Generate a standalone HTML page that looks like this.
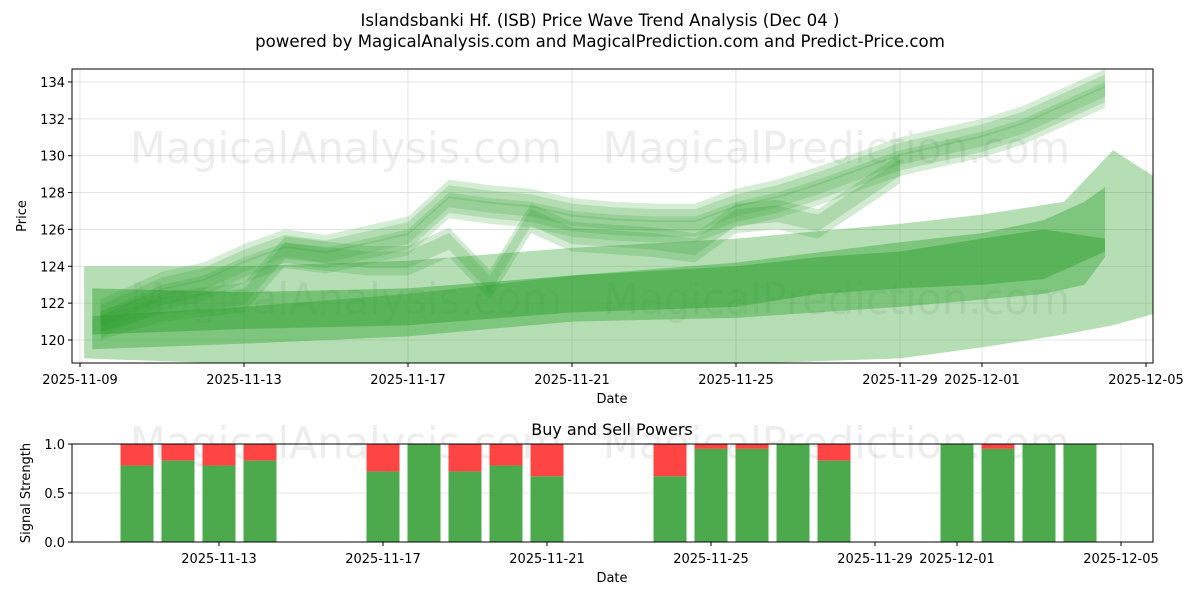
<!DOCTYPE html>
<html><head><meta charset="utf-8"><style>
body{margin:0;background:#fff;font-family:"Liberation Sans","DejaVu Sans",sans-serif}
svg text{font-family:"DejaVu Sans","Liberation Sans",sans-serif}
</style></head><body>
<svg id="chart" width="1200" height="600" viewBox="0 0 1200 600">
<text x="600" y="26" text-anchor="middle" font-size="16.6">Islandsbanki Hf. (ISB) Price Wave Trend Analysis (Dec 04 )</text>
<text x="600" y="47" text-anchor="middle" font-size="16.6">powered by MagicalAnalysis.com and MagicalPrediction.com and Predict-Price.com</text>
<g id="topG"></g>
<g id="botG"></g>
</svg>
<script>
const tickDays=[0,4,8,12,16,20,22,26];
const tickLabels=["2025-11-09","2025-11-13","2025-11-17","2025-11-21","2025-11-25","2025-11-29","2025-12-01","2025-12-05"];
const yTicks=[120,122,124,126,128,130,132,134];
const bandDays=[[0.1,4,8,12,16,20,22,24,25.2,26.8],[0.3,4,8,12,16,20,22,23.5,24.5,25],[0.3,4,8,12,16,18,20,22,23.5,25]];
const bandUpper=[[124,124,124.3,125,125.5,126.3,126.8,127.5,130.3,128],[121.3,121.8,122.5,123.5,124.2,125.3,125.8,126.5,127.5,128.3],[122.8,122.6,122.8,123.5,124,124.5,124.8,125.5,126,125.5]];
const bandLower=[[119,118.7,118.5,118.5,118.7,119,119.6,120.3,120.8,121.8],[119.5,119.8,120.2,121,121.2,121.8,122.2,122.5,123,124.5],[120.3,120.6,120.8,121.5,121.8,122.5,122.8,123,123.3,124.8]];
const waveADays=[0.5,1,2,3,4,5,6,7,8,9,10,11,12,13,14,15,16,17,18,19,20,21,22,23,24,25];
const waveA=[121,121.5,122.5,123,124,124.8,124.5,125,125.5,127.5,127.2,127,126.5,126.3,126.2,126.2,127,127.5,128.2,129,129.8,130.3,130.8,131.5,132.5,133.5];
const waveBDays=[0.5,2,4,5,7,8,9,10,11,12,14,15,16,17,18,19,20];
const waveB=[121,122,122.5,125,124.5,124.5,125.5,123.2,126.8,125.8,125.5,125.2,126.8,127,126.5,128,129.5];
const barDays=[2,3,4,5,8,9,10,11,12,15,16,17,18,19,22,23,24,25];
const buyPower=[0.78,0.83,0.78,0.83,0.72,1.0,0.72,0.78,0.67,0.67,0.95,0.95,1.0,0.83,1.0,0.95,1.0,1.0];
const NS="http://www.w3.org/2000/svg";
const topG=document.getElementById('topG'),botG=document.getElementById('botG');
const X=d=>80+41*d, Y=p=>340-(p-120)*18.43;
const XB=d=>55+41*d, YB=v=>542-v*98;
function mk(tag,attrs,parent,txt){const e=document.createElementNS(NS,tag);for(const k in attrs)e.setAttribute(k,attrs[k]);if(txt!==undefined)e.textContent=txt;parent.appendChild(e);return e;}
const g1=mk('g',{},topG);


tickDays.forEach(d=>mk('line',{x1:X(d),x2:X(d),y1:69,y2:363,stroke:'#ddd','stroke-width':0.8},g1));
yTicks.forEach(p=>mk('line',{x1:72,x2:1153,y1:Y(p),y2:Y(p),stroke:'#ddd','stroke-width':0.8},g1));
const wm=mk('g',{fill:'#000','fill-opacity':0.07,'font-size':44},topG);


const wmA={textLength:432,lengthAdjust:'spacingAndGlyphs'};
const wmP={textLength:467,lengthAdjust:'spacingAndGlyphs'};
mk('text',Object.assign({x:130,y:163},wmA),wm,'MagicalAnalysis.com');mk('text',Object.assign({x:603,y:163},wmP),wm,'MagicalPrediction.com');
mk('text',Object.assign({x:130,y:314},wmA),wm,'MagicalAnalysis.com');mk('text',Object.assign({x:603,y:314},wmP),wm,'MagicalPrediction.com');
const clip=mk('clipPath',{id:'cp'},topG);mk('rect',{x:72,y:69,width:1081,height:294},clip);
const plot=mk('g',{'clip-path':'url(#cp)'},topG);
function band(days,up,lo,op,name){let pts=days.map((d,i)=>X(d)+','+Y(up[i]));pts=pts.concat(days.map((d,i)=>X(d)+','+Y(lo[i])).reverse());
const p=mk('polygon',{points:pts.join(' '),fill:'#2ca02c','fill-opacity':op},plot);

}
band(bandDays[0],bandUpper[0],bandLower[0],0.35,'wave-band-wide');
band(bandDays[1],bandUpper[1],bandLower[1],0.4,'wave-band-mid');
band(bandDays[2],bandUpper[2],bandLower[2],0.45,'wave-band-low');
const offs=[[0.9,-0.6],[0.5,-0.9],[0.3,-0.3],[1.2,0.2]];
offs.forEach((o,k)=>band(waveADays,waveA.map(v=>v+o[0]),waveA.map(v=>v+o[1]),0.2,'wave-band-upper-'+k));
[[0.6,-0.6],[0.3,-1.0]].forEach((o,k)=>band(waveBDays,waveB.map(v=>v+o[0]),waveB.map(v=>v+o[1]),0.22,'wave-band-b-'+k));
mk('rect',{x:72,y:69,width:1081,height:294,fill:'none',stroke:'#000','stroke-width':1},topG);
tickDays.forEach((d,i)=>{mk('line',{x1:X(d),x2:X(d),y1:363,y2:367,stroke:'#000'},topG);
const t=mk('text',{x:X(d),y:384,'text-anchor':'middle','font-size':13},topG,tickLabels[i]);

});
yTicks.forEach(p=>{mk('line',{x1:68,x2:72,y1:Y(p),y2:Y(p),stroke:'#000'},topG);
const t=mk('text',{x:65,y:Y(p)+5,'text-anchor':'end','font-size':13},topG,p);

});
mk('text',{x:612,y:403,'text-anchor':'middle','font-size':13},topG,'Date');
mk('text',{x:26,y:216,'text-anchor':'middle','font-size':13,transform:'rotate(-90 26 216)'},topG,'Price');
mk('text',{x:612,y:435,'text-anchor':'middle','font-size':16},botG,'Buy and Sell Powers');
const bticks=[4,8,12,16,20,22,26];
bticks.forEach(d=>mk('line',{x1:XB(d),x2:XB(d),y1:444,y2:542,stroke:'#ddd','stroke-width':0.8},botG));
[0,0.5,1].forEach(v=>mk('line',{x1:72,x2:1153,y1:YB(v),y2:YB(v),stroke:'#ddd','stroke-width':0.8},botG));
const wm2=mk('g',{fill:'#000','fill-opacity':0.07,'font-size':44},botG);
mk('text',Object.assign({x:130,y:458},wmA),wm2,'MagicalAnalysis.com');mk('text',Object.assign({x:603,y:458},wmP),wm2,'MagicalPrediction.com');
barDays.forEach((d,i)=>{const b=buyPower[i];
const r=mk('rect',{x:XB(d)-16.5,y:YB(1),width:33,height:YB(b)-YB(1),fill:'#ff4444'},botG);


const g=mk('rect',{x:XB(d)-16.5,y:YB(b),width:33,height:YB(0)-YB(b),fill:'#4caa4c'},botG);

});
mk('rect',{x:72,y:444,width:1081,height:98,fill:'none',stroke:'#000'},botG);
bticks.forEach(d=>{const i=tickDays.indexOf(d);mk('line',{x1:XB(d),x2:XB(d),y1:542,y2:546,stroke:'#000'},botG);
mk('text',{x:XB(d),y:563,'text-anchor':'middle','font-size':13},botG,tickLabels[i]);});
[[0,'0.0'],[0.5,'0.5'],[1,'1.0']].forEach(a=>{mk('line',{x1:68,x2:72,y1:YB(a[0]),y2:YB(a[0]),stroke:'#000'},botG);
mk('text',{x:65,y:YB(a[0])+5,'text-anchor':'end','font-size':13},botG,a[1]);});
mk('text',{x:612,y:582,'text-anchor':'middle','font-size':13},botG,'Date');
mk('text',{x:30,y:493,'text-anchor':'middle','font-size':13,transform:'rotate(-90 30 493)'},botG,'Signal Strength');
</script>
</body></html>
